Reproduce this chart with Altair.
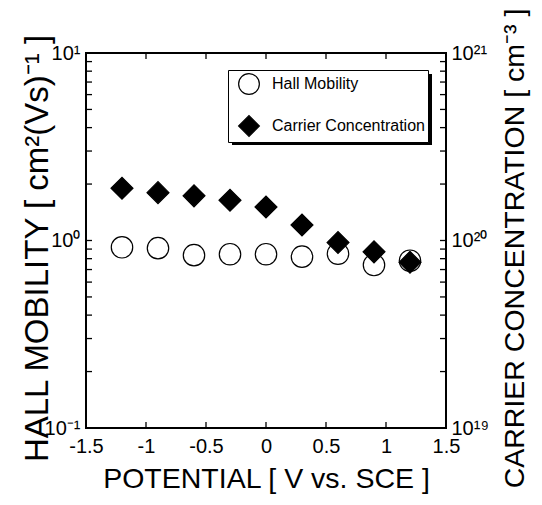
import altair as alt
import pandas as pd

# ---- data ----
potential = [-1.2, -0.9, -0.6, -0.3, 0.0, 0.3, 0.6, 0.9, 1.2]
hall_mobility = [0.92, 0.91, 0.835, 0.845, 0.845, 0.82, 0.85, 0.74, 0.78]
carrier_conc = [1.90e20, 1.80e20, 1.73e20, 1.64e20, 1.51e20, 1.21e20, 0.975e20, 0.87e20, 0.765e20]
series_names = ["Hall Mobility", "Carrier Concentration"]

x_ticks = [-1.5, -1.0, -0.5, 0.0, 0.5, 1.0, 1.5]
mob_ticks = [0.1, 0.2, 0.3, 0.4, 0.5, 0.6, 0.7, 0.8, 0.9,
             1, 2, 3, 4, 5, 6, 7, 8, 9, 10]
conc_ticks = [1e19, 2e19, 3e19, 4e19, 5e19, 6e19, 7e19, 8e19, 9e19,
              1e20, 2e20, 3e20, 4e20, 5e20, 6e20, 7e20, 8e20, 9e20, 1e21]

FONT = "Liberation Sans"
W, H = 360, 375
TICK = 6

df_mob = pd.DataFrame({"potential": potential, "value": hall_mobility,
                       "series": series_names[0]})
df_conc = pd.DataFrame({"potential": potential, "value": carrier_conc,
                        "series": series_names[1]})
df_xt = pd.DataFrame({"potential": x_ticks})
df_mt = pd.DataFrame({"value": mob_ticks})
df_ct = pd.DataFrame({"value": conc_ticks})

shape_scale = alt.Scale(domain=series_names, range=["circle", "diamond"])
fill_scale = alt.Scale(domain=series_names, range=["transparent", "black"])
stroke_scale = alt.Scale(domain=series_names, range=["black", "black"])

legend = alt.Legend(
    title=None, orient="none", legendX=142, legendY=17,
    padding=3, symbolOffset=7, labelOffset=12, rowPadding=16,
    strokeColor="black", fillColor="white",
    labelFontSize=16, labelFont=FONT, labelColor="black", labelLimit=400,
    symbolSize=430, symbolStrokeWidth=1.2,
)

x_scale = alt.Scale(domain=[-1.5, 1.5], nice=False, zero=False)
mob_scale = alt.Scale(type="log", domain=[0.1, 10], nice=False)
conc_scale = alt.Scale(type="log", domain=[1e19, 1e21], nice=False)

common_axis = dict(domain=False, grid=False, ticks=False, labelFlush=False,
                   labelOverlap=False, labelFont=FONT, labelColor="black",
                   labelFontSize=20, titleFont=FONT,
                   titleFontWeight="normal", titleColor="black")

mob_layer = alt.Chart(df_mob).mark_point(
    filled=True, size=460, strokeWidth=1.2, opacity=1
).encode(
    x=alt.X("potential:Q", scale=x_scale,
            axis=alt.Axis(orient="bottom", values=x_ticks,
                          labelExpr="'' + datum.value",
                          title="POTENTIAL  [  V vs. SCE ]", labelPadding=8,
                          titlePadding=8, titleFontSize=28.5, **common_axis)),
    y=alt.Y("value:Q", scale=mob_scale,
            axis=alt.Axis(orient="left", values=mob_ticks,
                          labelExpr="datum.value == 10 ? '10¹' : datum.value == 1 ? '10⁰' : datum.value == 0.1 ? '10⁻¹' : ''",
                          title="HALL MOBILITY  [ cm²(Vs)⁻¹ ]", labelPadding=6,
                          titleX=-39, titleY=195, titleBaseline="alphabetic",
                          titleFontSize=33, **common_axis)),
    shape=alt.Shape("series:N", scale=shape_scale, legend=legend),
    fill=alt.Fill("series:N", scale=fill_scale, legend=legend),
    stroke=alt.Stroke("series:N", scale=stroke_scale, legend=legend),
)

conc_layer = alt.Chart(df_conc).mark_point(
    filled=True, size=480, strokeWidth=1.2, opacity=1
).encode(
    x=alt.X("potential:Q", scale=x_scale),
    y=alt.Y("value:Q", scale=conc_scale,
            axis=alt.Axis(orient="right", values=conc_ticks,
                          labelExpr="datum.value == 1e21 ? '10²¹' : datum.value == 1e20 ? '10²⁰' : datum.value == 1e19 ? '10¹⁹' : ''",
                          title="CARRIER CONCENTRATION  [ cm⁻³ ]", titleAngle=270,
                          labelPadding=5, titleX=77, titleY=195,
                          titleBaseline="alphabetic", titleFontSize=28.5,
                          **common_axis)),
    shape=alt.Shape("series:N", scale=shape_scale, legend=legend),
    fill=alt.Fill("series:N", scale=fill_scale, legend=legend),
    stroke=alt.Stroke("series:N", scale=stroke_scale, legend=legend),
)

# inward tick marks, placed at the tick values through the chart's scales
rule_style = dict(color="black", strokeWidth=1.3)
xtick_bottom = alt.Chart(df_xt).mark_rule(**rule_style).encode(
    x=alt.X("potential:Q", scale=x_scale),
    y=alt.value(H), y2=alt.value(H - TICK),
)
xtick_top = alt.Chart(df_xt).mark_rule(**rule_style).encode(
    x=alt.X("potential:Q", scale=x_scale),
    y=alt.value(0), y2=alt.value(TICK),
)
ytick_left = alt.Chart(df_mt).mark_rule(**rule_style).encode(
    y=alt.Y("value:Q", scale=mob_scale, axis=None),
    x=alt.value(0), x2=alt.value(TICK),
)
ytick_right = alt.Chart(df_ct).mark_rule(**rule_style).encode(
    y=alt.Y("value:Q", scale=conc_scale, axis=None),
    x=alt.value(W - TICK), x2=alt.value(W),
)

# drop shadow of the legend box (decoration)
legend_shadow = alt.Chart(df_xt).mark_rect(color="black").encode(
    x=alt.value(146), x2=alt.value(346), y=alt.value(21), y2=alt.value(92),
)

chart = alt.layer(
    xtick_bottom, xtick_top, ytick_left, ytick_right, mob_layer, conc_layer,
    legend_shadow
).resolve_scale(
    y="independent"
).properties(
    width=W, height=H,
    autosize=alt.AutoSizeParams(type="none"),
    padding={"left": 86, "top": 53, "right": 96, "bottom": 77},
    background="white",
).configure_view(
    stroke="black", strokeWidth=2
)

chart.save("out.html", embed_options={"renderer": "svg", "actions": False})
